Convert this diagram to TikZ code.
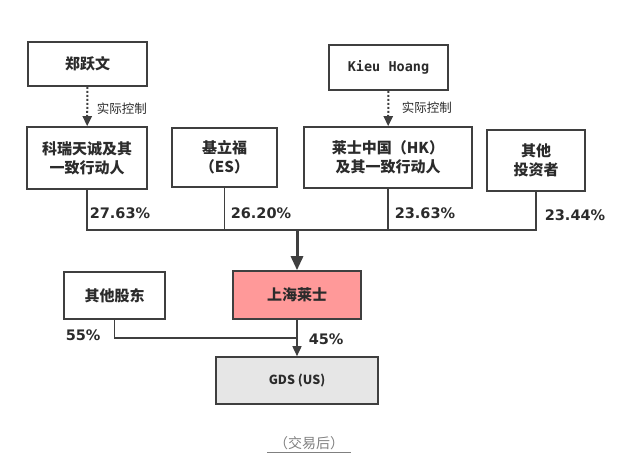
\documentclass[tikz,border=0pt]{standalone}
\usepackage{fontspec}
\setmainfont{DejaVu Sans}
\newfontfamily\cjk{Noto Sans CJK SC}
\newfontfamily\monofont{DejaVu Sans Mono}
\usetikzlibrary{arrows.meta}
\definecolor{linegray}{HTML}{3F3F3F}
\definecolor{textdark}{HTML}{2B2B2B}
\definecolor{boxpink}{HTML}{FF9999}
\definecolor{boxgray}{HTML}{E6E6E6}
\definecolor{capgray}{HTML}{808080}

\begin{document}
\begin{tikzpicture}[x=1pt,y=-1pt,line width=1.6pt,draw=linegray,>={Triangle[length=10pt,width=9pt]},
  entity/.style={rectangle,draw=linegray,line width=1.6pt,inner sep=2pt,align=center,text=textdark,
    font=\cjk\bfseries\fontsize{15}{19}\selectfont},
  share/.style={anchor=west,inner sep=0pt,font=\bfseries\fontsize{14.5}{14.5}\selectfont,text=textdark},
  ctrl/.style={dotted,line width=2pt,->},
  ctrltext/.style={anchor=west,inner sep=0pt,text=textdark,font=\cjk\fontsize{12.5}{12.5}\selectfont}]
\useasboundingbox (0,0) rectangle (621,468);

\node [entity,minimum width=119pt,minimum height=44pt] (zyw) at (87.5,64) {郑跃文};
\node [entity,minimum width=119pt,minimum height=45pt,font=\monofont\bfseries\fontsize{13.5}{13.5}\selectfont] (kieu) at (388.5,67.5) {Kieu Hoang};
\node [entity,minimum width=120pt,minimum height=62pt] (kerui) at (87,158) {科瑞天诚及其\\一致行动人};
\node [entity,minimum width=105pt,minimum height=59pt] (jlf) at (224.5,157.5) {基立福\\（ES）};
\node [entity,minimum width=168pt,minimum height=61pt] (lscn) at (388,157.5) {莱士中国（HK）\\及其一致行动人};
\node [entity,minimum width=98pt,minimum height=61pt] (tzz) at (536,160.5) {其他\\投资者};
\node [entity,minimum width=128pt,minimum height=48pt,fill=boxpink] (shls) at (297,295) {上海莱士};
\node [entity,minimum width=101pt,minimum height=47pt] (qtgd) at (114.5,295.5) {其他股东};
\node [entity,minimum width=162pt,minimum height=47pt,fill=boxgray,font=\cjk\bfseries\fontsize{12.5}{12.5}\selectfont] (gds) at (297,380.5) {GDS (US)};

\coordinate (bus) at (297,230);
\coordinate (merge) at (297,338);

% control links
\draw [ctrl] (zyw) -- (kerui);
\draw [ctrl] (kieu) -- (lscn);
\node [ctrltext] (ctrl1) at (96,109) {实际控制};
\node [ctrltext] (ctrl2) at (401,108) {实际控制};

% holdings in shanghai raas
\draw (kerui.south) |- (bus);
\draw (jlf.south) |- (bus);
\draw (lscn.south) |- (bus);
\draw (tzz.south) |- (bus);
\draw [line width=3pt,-{Triangle[length=14pt,width=12pt]}] (bus) -- (shls);
\node [share] (p1) at (89,213) {27.63\%};
\node [share] (p2) at (230,213) {26.20\%};
\node [share] (p3) at (394,213) {23.63\%};
\node [share] (p4) at (544,215) {23.44\%};

% holdings in gds
\draw (qtgd.south) |- (merge);
\draw [->] (shls) -- (gds);
\node [share] (p5) at (65,335) {55\%};
\node [share] (p6) at (308,339) {45\%};

\node [inner xsep=6pt,inner ysep=2pt,font=\cjk\fontsize{14}{14}\selectfont,text=capgray] (cap) at (309,443) {（交易后）};
\draw [capgray,line width=0.8pt] (cap.south west) -- (cap.south east);
\end{tikzpicture}
\end{document}
